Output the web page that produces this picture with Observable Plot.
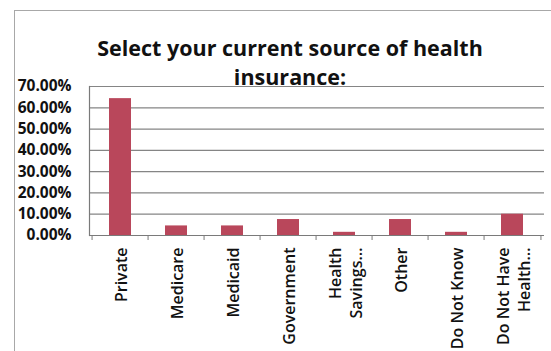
<!DOCTYPE html>
<html>
<head>
<meta charset="utf-8">
<script src="https://cdn.jsdelivr.net/npm/d3@7"></script>
<script src="https://cdn.jsdelivr.net/npm/@observablehq/plot@0.6"></script>
<style>
  html, body { margin: 0; padding: 0; background: #fff; }
  #chart { position: relative; width: 551px; height: 351px; overflow: hidden; font-family: "Open Sans", sans-serif; }
  #chart svg { position: absolute; left: 0; top: 0; }
  #frame { position: absolute; left: 14px; top: 10px; width: 600px; height: 400px;
           border-left: 1.5px solid #a8a8a8; border-top: 1.5px solid #a8a8a8; pointer-events: none; }
  #title { position: absolute; left: 90px; top: 33px; width: 400px; text-align: center;
           font-weight: bold; font-size: 21.5px; line-height: 29px; color: #111; }
</style>
</head>
<body>
<div id="chart">
  <div id="title">Select your current source of health<br>insurance:</div>
  <div id="frame"></div>
</div>
<script>
// Survey answers: current source of health insurance
const categories = [
  "Private",
  "Medicare",
  "Medicaid",
  "Government",
  "Health\nSavings…",
  "Other",
  "Do Not Know",
  "Do Not Have\nHealth…"
];
const shares = [0.643, 0.045, 0.045, 0.075, 0.015, 0.075, 0.015, 0.10];
const yTicks = [0, 0.1, 0.2, 0.3, 0.4, 0.5, 0.6, 0.7];

const data = categories.map((category, i) => ({category, share: shares[i]}));

const width = 551, height = 351;
const marginLeft = 89, marginRight = 7;
const step = (width - marginLeft - marginRight) / categories.length;

const chart = Plot.plot({
  width, height,
  marginLeft, marginRight,
  marginTop: 86,
  marginBottom: 116,
  style: {background: "transparent", fontFamily: "Open Sans, sans-serif", color: "#111"},
  x: {type: "band", domain: categories, paddingInner: 0.6, paddingOuter: 0.3, label: null},
  y: {domain: [0, 0.7], label: null},
  marks: [
    Plot.ruleY(yTicks.slice(1), {stroke: "#858585", strokeWidth: 1.2}),
    Plot.barY(data, {x: "category", y: "share", fill: "#b9475b"}),
    Plot.ruleY([0], {stroke: "#7a7a7a", strokeWidth: 1.2}),
    Plot.frame({anchor: "left", stroke: "#7a7a7a", strokeWidth: 1.2}),
    // small tick marks between categories
    Plot.ruleX(categories, {x: d => d, dx: -step / 2, y1: 0, y2: 0, insetBottom: -5, stroke: "#7a7a7a"}),
    Plot.ruleX(categories.slice(-1), {x: d => d, dx: step / 2, y1: 0, y2: 0, insetBottom: -5, stroke: "#7a7a7a"}),
    Plot.axisY({
      ticks: yTicks, tickFormat: d3.format(".2%"), tickSize: 0, tickPadding: 18,
      fontSize: 15.5, fontWeight: "bold", fill: "#111", label: null
    }),
    Plot.axisX({
      tickSize: 0, tickPadding: 12, tickRotate: -90,
      fontSize: 16, fontWeight: 600, lineHeight: 1.3, fill: "#111", label: null
    })
  ]
});

document.getElementById("chart").insertBefore(chart, document.getElementById("title"));
</script>
</body>
</html>
